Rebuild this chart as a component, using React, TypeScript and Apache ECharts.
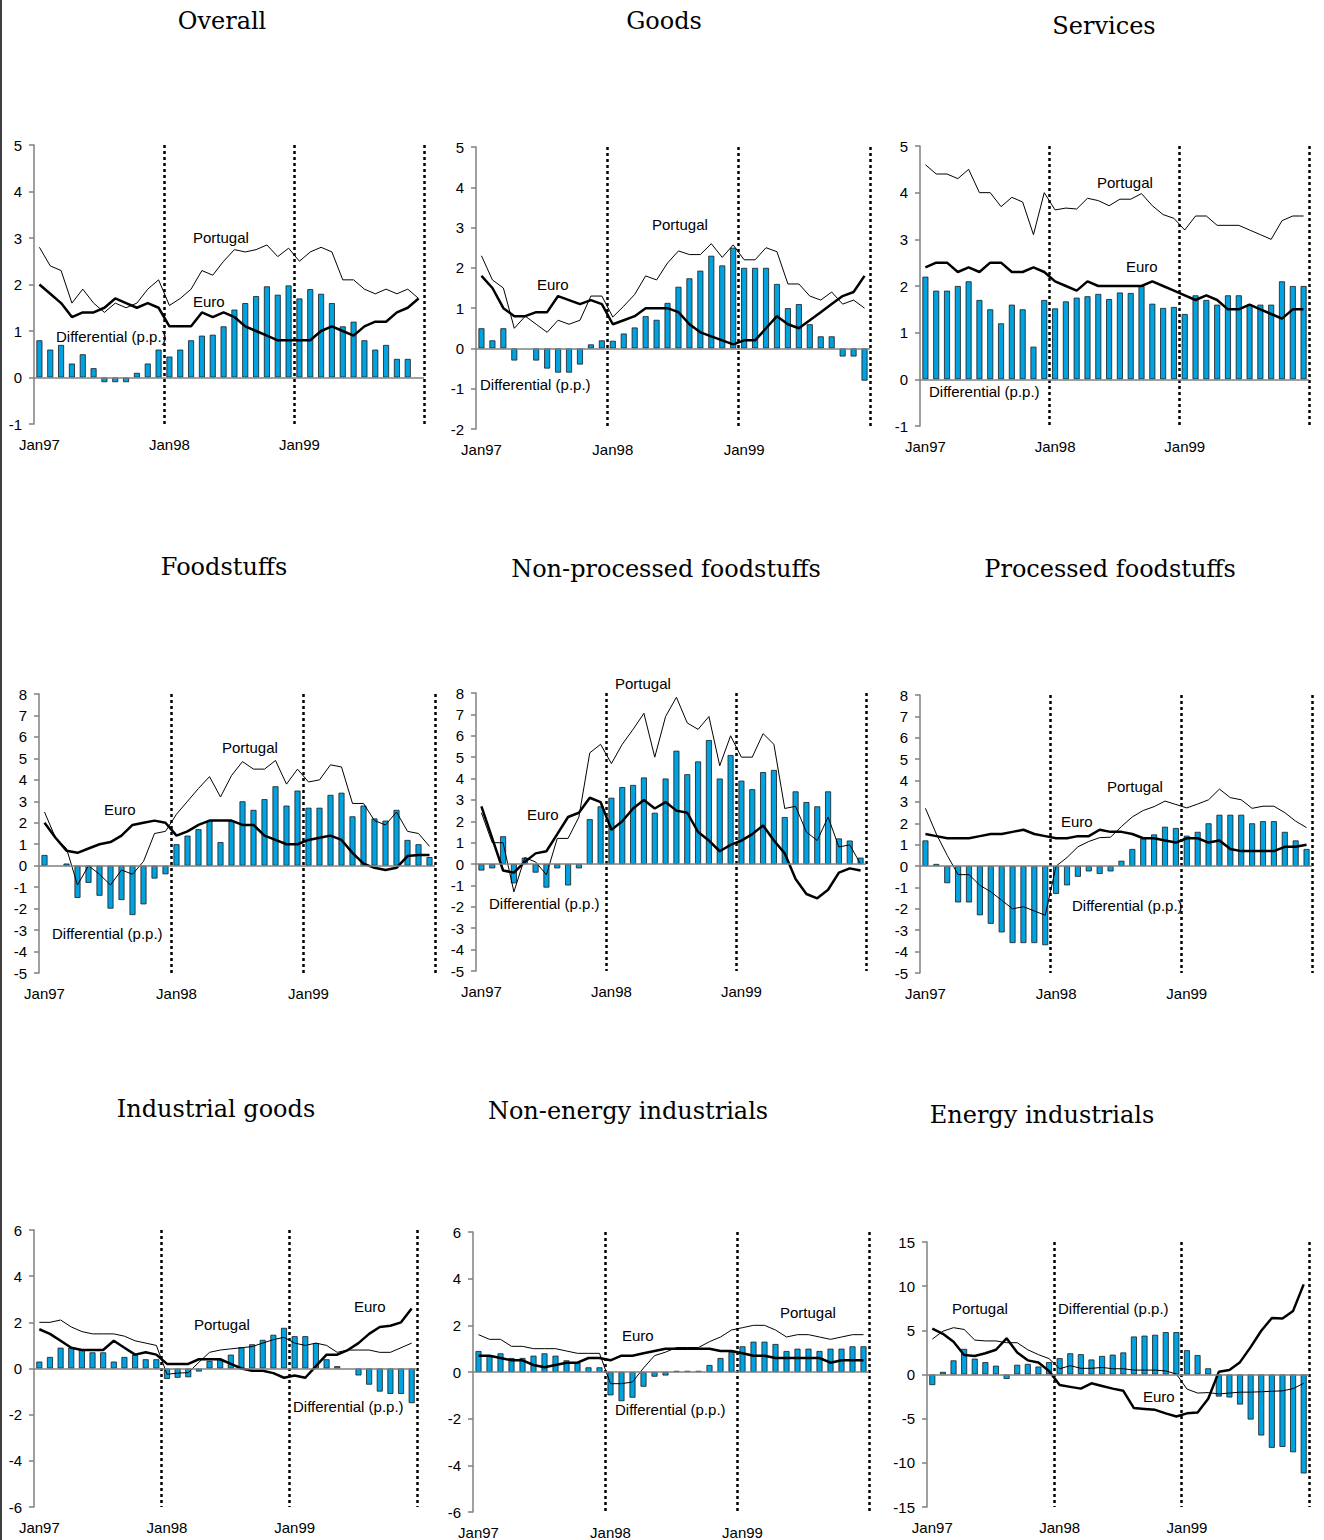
import React, { useEffect, useRef } from "react";
import * as echarts from "echarts";

const months = [
  "Jan97","Feb97","Mar97","Apr97","May97","Jun97","Jul97","Aug97","Sep97","Oct97","Nov97","Dec97",
  "Jan98","Feb98","Mar98","Apr98","May98","Jun98","Jul98","Aug98","Sep98","Oct98","Nov98","Dec98",
  "Jan99","Feb99","Mar99","Apr99","May99","Jun99","Jul99","Aug99","Sep99","Oct99","Nov99","Dec99",
];

const titles = [
  "Overall", "Goods", "Services",
  "Foodstuffs", "Non-processed foodstuffs", "Processed foodstuffs",
  "Industrial goods", "Non-energy industrials", "Energy industrials",
];

// Overall
const diffOverall = [0.8,0.6,0.7,0.3,0.5,0.2,-0.1,-0.1,-0.1,0.1,0.3,0.6, 0.45,0.6,0.8,0.9,0.92,1.1,1.46,1.6,1.75,1.96,1.78,1.98, 1.7,1.9,1.8,1.6,1.1,1.2,0.8,0.6,0.7,0.4,0.4,null];
const portOverall = [2.8,2.4,2.3,1.6,1.9,1.6,1.4,1.6,1.5,1.6,1.9,2.1, 1.55,1.7,1.9,2.3,2.2,2.5,2.75,2.7,2.75,2.85,2.6,2.78, 2.5,2.7,2.8,2.7,2.1,2.1,1.9,1.8,1.9,1.8,1.9,1.7];
const euroOverall = [2.0,1.8,1.6,1.3,1.4,1.4,1.5,1.7,1.6,1.5,1.6,1.5, 1.1,1.1,1.1,1.4,1.3,1.4,1.3,1.1,1.0,0.9,0.8,0.8, 0.8,0.8,1.0,1.1,1.0,0.9,1.1,1.2,1.2,1.4,1.5,1.7];

// Goods
const diffGoods = [0.5,0.2,0.5,-0.3,null,-0.3,-0.5,-0.6,-0.6,-0.4,0.1,0.2, 0.19,0.37,0.52,0.8,0.71,1.13,1.53,1.74,1.93,2.3,2.06,2.5, 2.0,2.0,2.0,1.6,1.0,1.1,0.6,0.3,0.3,-0.2,-0.2,-0.8];
const portGoods = [2.3,1.7,1.5,0.5,0.8,0.6,0.4,0.7,0.6,0.7,1.3,1.3, 0.78,1.05,1.34,1.8,1.7,2.12,2.42,2.33,2.33,2.6,2.26,2.57, 2.2,2.2,2.5,2.4,1.6,1.6,1.3,1.2,1.4,1.1,1.2,1.0];
const euroGoods = [1.8,1.5,1.0,0.8,0.8,0.9,0.9,1.3,1.2,1.1,1.2,1.1, 0.6,0.7,0.8,1.0,1.0,1.0,0.9,0.6,0.4,0.3,0.2,0.1, 0.2,0.2,0.5,0.8,0.6,0.5,0.7,0.9,1.1,1.3,1.4,1.8];

// Services
const diffServices = [2.2,1.9,1.9,2.0,2.1,1.7,1.5,1.2,1.6,1.5,0.7,1.7, 1.52,1.67,1.75,1.78,1.83,1.72,1.86,1.85,2.0,1.62,1.53,1.55, 1.4,1.8,1.7,1.6,1.8,1.8,1.6,1.6,1.6,2.1,2.0,2.0];
const portServices = [4.6,4.4,4.4,4.3,4.5,4.0,4.0,3.7,3.9,3.8,3.1,4.0, 3.63,3.67,3.65,3.88,3.83,3.72,3.86,3.86,3.98,3.72,3.53,3.45, 3.2,3.5,3.5,3.3,3.3,3.3,3.2,3.1,3.0,3.4,3.5,3.5];
const euroServices = [2.4,2.5,2.5,2.3,2.4,2.3,2.5,2.5,2.3,2.3,2.4,2.3, 2.1,2.0,1.9,2.1,2.0,2.0,2.0,2.0,2.0,2.1,2.0,1.9, 1.8,1.7,1.8,1.7,1.5,1.5,1.6,1.5,1.4,1.3,1.5,1.5];

// Foodstuffs
const diffFood = [0.5,null,0.1,-1.5,-0.8,-1.4,-2.0,-1.6,-2.3,-1.8,-0.6,-0.4, 1.0,1.4,1.7,2.1,1.1,2.1,3.0,2.6,3.1,3.7,2.8,3.5, 2.7,2.7,3.3,3.4,2.3,2.8,2.2,2.1,2.6,1.2,1.0,0.4];
const portFood = [2.5,1.3,0.8,-0.9,0.0,-0.4,-0.9,-0.2,-0.4,0.2,1.5,1.6, 2.4,3.0,3.6,4.15,3.2,4.2,4.85,4.5,4.5,4.9,3.8,4.5, 3.9,4.0,4.7,4.6,2.9,2.9,2.1,1.9,2.5,1.6,1.5,0.9];
const euroFood = [2.0,1.3,0.7,0.6,0.8,1.0,1.1,1.4,1.9,2.0,2.1,2.0, 1.4,1.6,1.9,2.1,2.1,2.1,1.9,1.9,1.4,1.2,1.0,1.0, 1.2,1.3,1.4,1.2,0.6,0.1,-0.1,-0.2,-0.1,0.45,0.5,0.5];

// Non-processed foodstuffs
const diffNonProc = [-0.3,-0.2,1.3,-0.9,0.3,-0.4,-1.1,-0.2,-1.0,-0.2,2.1,2.7, 3.1,3.6,3.7,4.05,2.4,4.0,5.3,4.2,4.8,5.8,4.0,5.1, 3.9,3.5,4.3,4.4,2.2,3.4,2.9,2.7,3.4,1.2,1.1,0.3];
const portNonProc = [2.4,1.0,1.0,-1.3,0.3,0.1,-0.5,1.2,1.2,2.2,5.2,5.6, 4.7,5.6,6.3,7.05,5.0,6.9,7.8,6.6,6.3,6.9,4.6,6.0, 5.0,5.0,6.1,5.6,2.6,2.7,1.5,1.1,2.2,0.8,0.9,0.0];
const euroNonProc = [2.7,1.2,-0.3,-0.4,0.1,0.5,0.6,1.4,2.2,2.4,3.1,2.9, 1.6,2.0,2.6,3.0,2.6,2.9,2.5,2.4,1.5,1.1,0.6,0.9, 1.1,1.4,1.8,1.1,0.5,-0.7,-1.4,-1.6,-1.2,-0.4,-0.2,-0.3];

// Processed foodstuffs
const diffProc = [1.2,0.1,-0.8,-1.7,-1.7,-2.3,-2.7,-3.1,-3.6,-3.6,-3.6,-3.7, -1.3,-0.9,-0.5,-0.25,-0.37,-0.25,0.25,0.8,1.3,1.48,1.84,1.78, 1.42,1.6,2.0,2.4,2.4,2.4,2.0,2.1,2.1,1.6,1.2,0.8];
const portProc = [2.7,1.5,0.5,-0.4,-0.4,-0.9,-1.2,-1.6,-2.0,-1.9,-2.1,-2.3, 0.0,0.4,0.9,1.15,1.33,1.35,1.85,2.3,2.6,2.78,3.04,2.88, 2.72,2.9,3.1,3.6,3.2,3.1,2.7,2.8,2.8,2.5,2.1,1.8];
const euroProc = [1.5,1.4,1.3,1.3,1.3,1.4,1.5,1.5,1.6,1.7,1.5,1.4, 1.3,1.3,1.4,1.4,1.7,1.6,1.6,1.5,1.3,1.3,1.2,1.1, 1.3,1.3,1.1,1.2,0.8,0.7,0.7,0.7,0.7,0.9,0.9,1.0];

// Industrial goods
const diffInd = [0.3,0.5,0.9,0.9,0.8,0.7,0.7,0.3,0.5,0.6,0.4,0.4, -0.45,-0.4,-0.38,-0.13,0.33,0.4,0.6,0.92,1.05,1.24,1.46,1.76, 1.4,1.4,1.1,0.4,0.1,null,-0.3,-0.7,-1.0,-1.1,-1.1,-1.5];
const portInd = [2.0,2.0,2.1,1.8,1.6,1.5,1.5,1.5,1.4,1.2,1.1,1.0, -0.25,-0.2,-0.18,0.27,0.7,0.8,0.85,0.9,0.95,1.1,1.25,1.35, 1.1,1.0,1.1,1.0,0.7,0.8,0.8,0.8,0.7,0.7,0.9,1.1];
const euroInd = [1.7,1.5,1.2,0.9,0.8,0.8,0.8,1.2,0.9,0.6,0.7,0.6, 0.2,0.2,0.2,0.4,0.4,0.4,0.2,0.0,-0.1,-0.1,-0.2,-0.4, -0.3,-0.4,0.1,0.6,0.6,0.8,1.1,1.5,1.8,1.85,2.0,2.6];

// Non-energy industrials
const diffNonEn = [0.9,0.7,0.8,0.6,0.6,0.7,0.8,0.7,0.5,0.4,0.2,0.2, -1.0,-1.25,-1.1,-0.63,-0.2,-0.15,0.05,0.05,0.05,0.3,0.6,0.86, 1.1,1.3,1.3,1.2,0.9,1.0,1.0,0.9,1.0,1.0,1.1,1.1];
const portNonEn = [1.6,1.4,1.4,1.1,1.1,1.0,1.0,1.0,0.9,0.8,0.8,0.8, -0.5,-0.5,-0.43,0.17,0.7,0.85,1.05,1.05,1.05,1.3,1.5,1.8, 1.9,2.0,2.0,1.8,1.5,1.6,1.6,1.5,1.4,1.5,1.6,1.6];
const euroNonEn = [0.7,0.7,0.6,0.5,0.5,0.3,0.2,0.3,0.4,0.4,0.6,0.6, 0.5,0.7,0.7,0.8,0.9,1.0,1.0,1.0,1.0,1.0,0.9,0.9, 0.8,0.7,0.7,0.6,0.6,0.6,0.6,0.6,0.4,0.5,0.5,0.5];

// Energy industrials
const diffEnergy = [-1.2,0.3,1.6,2.9,1.8,1.4,1.0,-0.5,1.1,1.2,0.9,1.4, 1.85,2.4,2.3,1.7,2.1,2.25,2.5,4.3,4.4,4.5,4.8,4.8, 2.75,2.2,0.7,-2.5,-2.6,-3.4,-5.1,-6.9,-8.3,-8.2,-8.8,-11.2];
const portEnergy = [4.0,4.9,5.3,5.1,3.9,3.8,3.8,3.6,3.6,2.8,2.25,1.8, 0.65,1.0,0.7,0.7,0.8,0.65,0.65,0.5,0.5,0.5,0.4,0.05, -1.65,-2.1,-2.05,-2.2,-2.1,-2.0,-2.0,-1.95,-1.9,-1.85,-1.6,-1.0];
const euroEnergy = [5.2,4.6,3.7,2.2,2.1,2.4,2.8,4.1,2.5,1.6,1.35,0.4, -1.2,-1.4,-1.6,-1.0,-1.3,-1.6,-1.85,-3.8,-3.9,-4.0,-4.4,-4.75, -4.4,-4.3,-2.75,0.3,0.5,1.4,3.1,4.95,6.4,6.35,7.2,10.2];

const diffs = [diffOverall, diffGoods, diffServices, diffFood, diffNonProc, diffProc, diffInd, diffNonEn, diffEnergy];
const ports = [portOverall, portGoods, portServices, portFood, portNonProc, portProc, portInd, portNonEn, portEnergy];
const euros = [euroOverall, euroGoods, euroServices, euroFood, euroNonProc, euroProc, euroInd, euroNonEn, euroEnergy];

// y-axis ranges [min, max, interval]
const yRanges = [
  [-1, 5, 1], [-2, 5, 1], [-1, 5, 1],
  [-5, 8, 1], [-5, 8, 1], [-5, 8, 1],
  [-6, 6, 2], [-6, 6, 2], [-15, 15, 5],
];

const labelPortugal = "Portugal";
const labelEuro = "Euro";
const labelDiff = "Differential (p.p.)";

// Layout (pixels)
const gridBoxes = [
  { left: 34, top: 145, width: 390, height: 279 },
  { left: 476, top: 147, width: 394, height: 282 },
  { left: 920, top: 146, width: 389, height: 280 },
  { left: 39, top: 694, width: 396, height: 279 },
  { left: 476, top: 693, width: 390, height: 278 },
  { left: 920, top: 695, width: 392, height: 278 },
  { left: 34, top: 1230, width: 383, height: 277 },
  { left: 473, top: 1232, width: 396, height: 280 },
  { left: 927, top: 1242, width: 382, height: 265 },
];

const titlePos = [
  [222, 21], [664, 21], [1104, 26],
  [224, 567], [666, 569], [1110, 569],
  [216, 1109], [628, 1111], [1042, 1115],
];

// [x, y] left / middle of each annotation: Portugal, Euro, Differential
const annotPos = [
  [[193, 237], [193, 301], [56, 336]],
  [[652, 224], [537, 284], [480, 384]],
  [[1097, 182], [1126, 266], [929, 391]],
  [[222, 747], [104, 809], [52, 933]],
  [[615, 683], [527, 814], [489, 903]],
  [[1107, 786], [1061, 821], [1072, 905]],
  [[194, 1324], [354, 1306], [293, 1406]],
  [[780, 1312], [622, 1335], [615, 1409]],
  [[952, 1308], [1143, 1396], [1058, 1308]],
];

const SANS = '"Liberation Sans", Arial, sans-serif';
const SERIF = '"DejaVu Serif", serif';

function buildOption() {
  const grid = gridBoxes.map((g) => ({ ...g, containLabel: false }));
  const xAxis = gridBoxes.map((_, i) => ({
    type: "category",
    gridIndex: i,
    data: months,
    boundaryGap: true,
    position: "bottom",
    axisLine: { show: false, onZero: false },
    axisTick: { show: false },
    axisLabel: {
      interval: 11,
      margin: 13,
      color: "#000",
      fontSize: 15,
      fontFamily: SANS,
    },
    splitLine: {
      show: true,
      interval: 11,
      showMinLine: false,
      lineStyle: { color: "#000", width: 2.5, type: [3, 3] },
    },
  }));
  const yAxis = yRanges.map((r, i) => ({
    type: "value",
    gridIndex: i,
    min: r[0],
    max: r[1],
    interval: r[2],
    axisLine: { show: true, onZero: false, lineStyle: { color: "#808080", width: 1.5 } },
    axisTick: { show: true, inside: false, length: 5, lineStyle: { color: "#808080", width: 1.5 } },
    axisLabel: { color: "#000", fontSize: 15, fontFamily: SANS, margin: 12 },
    splitLine: { show: false },
  }));
  const series: any[] = [];
  diffs.forEach((d, i) => {
    series.push({
      type: "bar",
      name: labelDiff,
      xAxisIndex: i,
      yAxisIndex: i,
      data: d,
      barWidth: 6,
      itemStyle: { color: "#00A3E0", borderColor: "#1a1a1a", borderWidth: 0.8 },
      markLine: {
        silent: true,
        symbol: ["none", "none"],
        label: { show: false },
        lineStyle: { color: "#808080", type: "solid", width: 1.5 },
        data: [{ yAxis: 0 }],
      },
      z: 2,
    });
    series.push({
      type: "line",
      name: labelPortugal,
      xAxisIndex: i,
      yAxisIndex: i,
      data: ports[i],
      symbol: "none",
      lineStyle: { color: "#000", width: 1 },
      z: 3,
    });
    series.push({
      type: "line",
      name: labelEuro,
      xAxisIndex: i,
      yAxisIndex: i,
      data: euros[i],
      symbol: "none",
      lineStyle: { color: "#000", width: 2.5 },
      z: 4,
    });
  });

  const graphic: any[] = [];
  titles.forEach((t, i) => {
    graphic.push({
      type: "text",
      x: titlePos[i][0],
      y: titlePos[i][1],
      style: {
        text: t,
        font: `24px ${SERIF}`,
        fill: "#000",
        align: "center",
        verticalAlign: "middle",
      },
    });
  });
  const annotTexts = [labelPortugal, labelEuro, labelDiff];
  annotPos.forEach((set) => {
    set.forEach((p, k) => {
      graphic.push({
        type: "text",
        x: p[0],
        y: p[1],
        z: 100,
        style: {
          text: annotTexts[k],
          font: `15px ${SANS}`,
          fill: "#000",
          align: "left",
          verticalAlign: "middle",
        },
      });
    });
  });
  graphic.push({
    type: "line",
    shape: { x1: 1, y1: 0, x2: 1, y2: 1540 },
    style: { stroke: "#000", lineWidth: 1.5 },
  });

  return {
    animation: false,
    backgroundColor: "#fff",
    grid,
    xAxis,
    yAxis,
    series,
    graphic,
  };
}

export default function App() {
  const ref = useRef<HTMLDivElement>(null);
  useEffect(() => {
    if (!ref.current) return;
    const chart = echarts.init(ref.current, undefined, { renderer: "svg" });
    chart.setOption(buildOption() as any);
    return () => chart.dispose();
  }, []);
  return (
    <div
      ref={ref}
      style={{ position: "absolute", left: 0, top: 0, width: 1324, height: 1540, background: "#fff" }}
    />
  );
}
